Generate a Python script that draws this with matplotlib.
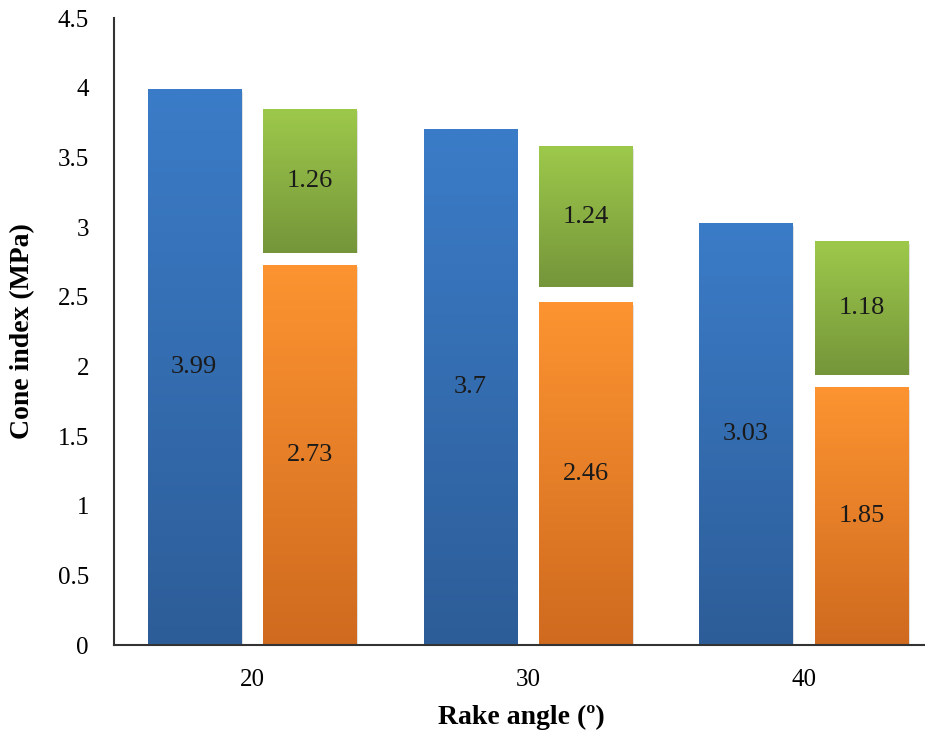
import matplotlib
matplotlib.use("Agg")
import matplotlib.pyplot as plt
import numpy as np
from matplotlib.patches import Rectangle
from matplotlib.colors import LinearSegmentedColormap

categories = ["20", "30", "40"]
blue_vals = [3.99, 3.70, 3.03]
orange_vals = [2.73, 2.46, 1.85]
green_labels = [1.26, 1.24, 1.18]
green_lo = [2.81, 2.57, 1.94]
green_hi = [3.85, 3.58, 2.90]
yticks = [0, 0.5, 1, 1.5, 2, 2.5, 3, 3.5, 4, 4.5]
ytick_labels = ["0", "0.5", "1", "1.5", "2", "2.5", "3", "3.5", "4", "4.5"]

serif = ["Liberation Serif", "DejaVu Serif"]
plt.rcParams["font.family"] = serif

fig = plt.figure(figsize=(9.25, 7.35), dpi=100)
ax = fig.add_axes([0.1232, 0.1224, 0.88, 0.8531])

x = np.arange(len(categories))
width = 0.338
off = 0.209

cm_blue = LinearSegmentedColormap.from_list("b", ["#2d5d98", "#3b7cc8"])
cm_orange = LinearSegmentedColormap.from_list("o", ["#cf6a1f", "#fd9431"])
cm_green = LinearSegmentedColormap.from_list("g", ["#75953a", "#9dc94b"])

grad = np.linspace(0, 1, 256).reshape(-1, 1)

def grad_bar(xc, y0, y1, cmap):
    x0 = xc - width / 2
    sh = Rectangle((x0 + 0.006, y0), width, y1 - y0 - 0.02,
                   facecolor="#000000", alpha=0.12, edgecolor="none", zorder=1)
    ax.add_patch(sh)
    rect = Rectangle((x0, y0), width, y1 - y0, facecolor="none",
                     edgecolor="none", zorder=2)
    ax.add_patch(rect)
    im = ax.imshow(grad, extent=[x0, x0 + width, y0, y1], origin="lower",
                   cmap=cmap, aspect="auto", zorder=2, interpolation="bilinear")
    im.set_clip_path(rect)

for i in range(len(categories)):
    grad_bar(x[i] - off, 0, blue_vals[i], cm_blue)
    grad_bar(x[i] + off, 0, orange_vals[i], cm_orange)
    grad_bar(x[i] + off, green_lo[i], green_hi[i], cm_green)

fs_lab = 19
for i in range(len(categories)):
    ax.text(x[i] - off, blue_vals[i] / 2, f"{blue_vals[i]:g}", ha="center",
            va="center", fontsize=fs_lab, color="#1a1a1a", zorder=5)
    ax.text(x[i] + off, orange_vals[i] / 2, f"{orange_vals[i]:g}", ha="center",
            va="center", fontsize=fs_lab, color="#1a1a1a", zorder=5)
    ax.text(x[i] + off, (green_lo[i] + green_hi[i]) / 2, f"{green_labels[i]:.2f}",
            ha="center", va="center", fontsize=fs_lab, color="#1a1a1a", zorder=5)

ax.set_xlim(-0.5, 2.45)
ax.set_ylim(0, 4.5)
ax.set_yticks(yticks)
ax.set_yticklabels(ytick_labels)
ax.set_xticks(x)
ax.set_xticklabels(categories)
ax.tick_params(axis="y", length=0, pad=18, labelsize=18)
ax.tick_params(axis="x", length=0, pad=17, labelsize=18)
for s in ["top", "right"]:
    ax.spines[s].set_visible(False)
for s in ["left", "bottom"]:
    ax.spines[s].set_color("#333333")
    ax.spines[s].set_linewidth(1.5)

ax.set_xlabel("Rake angle (º)", fontsize=20, fontweight="bold", labelpad=10)
ax.set_ylabel("Cone index (MPa)", fontsize=20, fontweight="bold", labelpad=16)

fig.savefig("out.png", dpi=100)
